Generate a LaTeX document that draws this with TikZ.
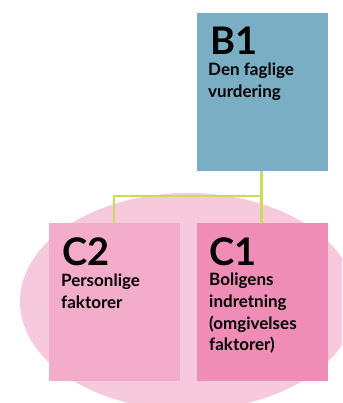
\documentclass[tikz,border=0pt]{standalone}
\usepackage{fontspec}
\setmainfont{Lato}
\definecolor{boxblue}{HTML}{79AEC5}
\definecolor{boxpink}{HTML}{F3ADCB}
\definecolor{boxrose}{HTML}{EF8DB6}
\definecolor{ellpink}{HTML}{F6C9DD}
\definecolor{linkgreen}{HTML}{CADC5E}
\begin{document}
\begin{tikzpicture}[x=1pt,y=-1pt,
  card/.style={draw=none,rectangle,minimum width=131pt,minimum height=158pt,inner sep=0pt,anchor=north west},
  bigtitle/.style={anchor=base west,inner sep=0pt,font=\bfseries\fontsize{38}{38}\selectfont},
  subtext/.style={anchor=north west,inner sep=0pt,align=left,font=\bfseries\fontsize{17}{21.7}\selectfont},
  link/.style={draw=linkgreen,line width=2.6pt}]
\useasboundingbox (0,0) rectangle (342,403);
\begin{scope}
\clip (0,0) rectangle (342,403);
\fill[ellpink] (188,301.5) ellipse [x radius=168, y radius=108.5];
\end{scope}
\node[card,fill=boxblue] (b1) at (197,13) {};
\node[card,fill=boxpink] (c2) at (49,222.7) {};
\node[card,fill=boxrose] (c1) at (197,222.7) {};
\coordinate (j) at (261.7,196);
\coordinate (k) at (114,196);
\draw[link] (b1.south -| j) -- (c1.north -| j);
\draw[link] (j) -- (k) -- (c2.north -| k);
\node[bigtitle] (b1t) at (210,55) {B1};
\node[subtext] (b1s) at (208,63) {Den faglige\\vurdering};
\node[bigtitle] (c2t) at (62,265) {C2};
\node[subtext] (c2s) at (61,273.8) {Personlige\\faktorer};
\node[bigtitle] (c1t) at (209,265) {C1};
\node[subtext] (c1s) at (209,273) {Boligens\\indretning\\(omgivelses\\faktorer)};
\end{tikzpicture}
\end{document}
